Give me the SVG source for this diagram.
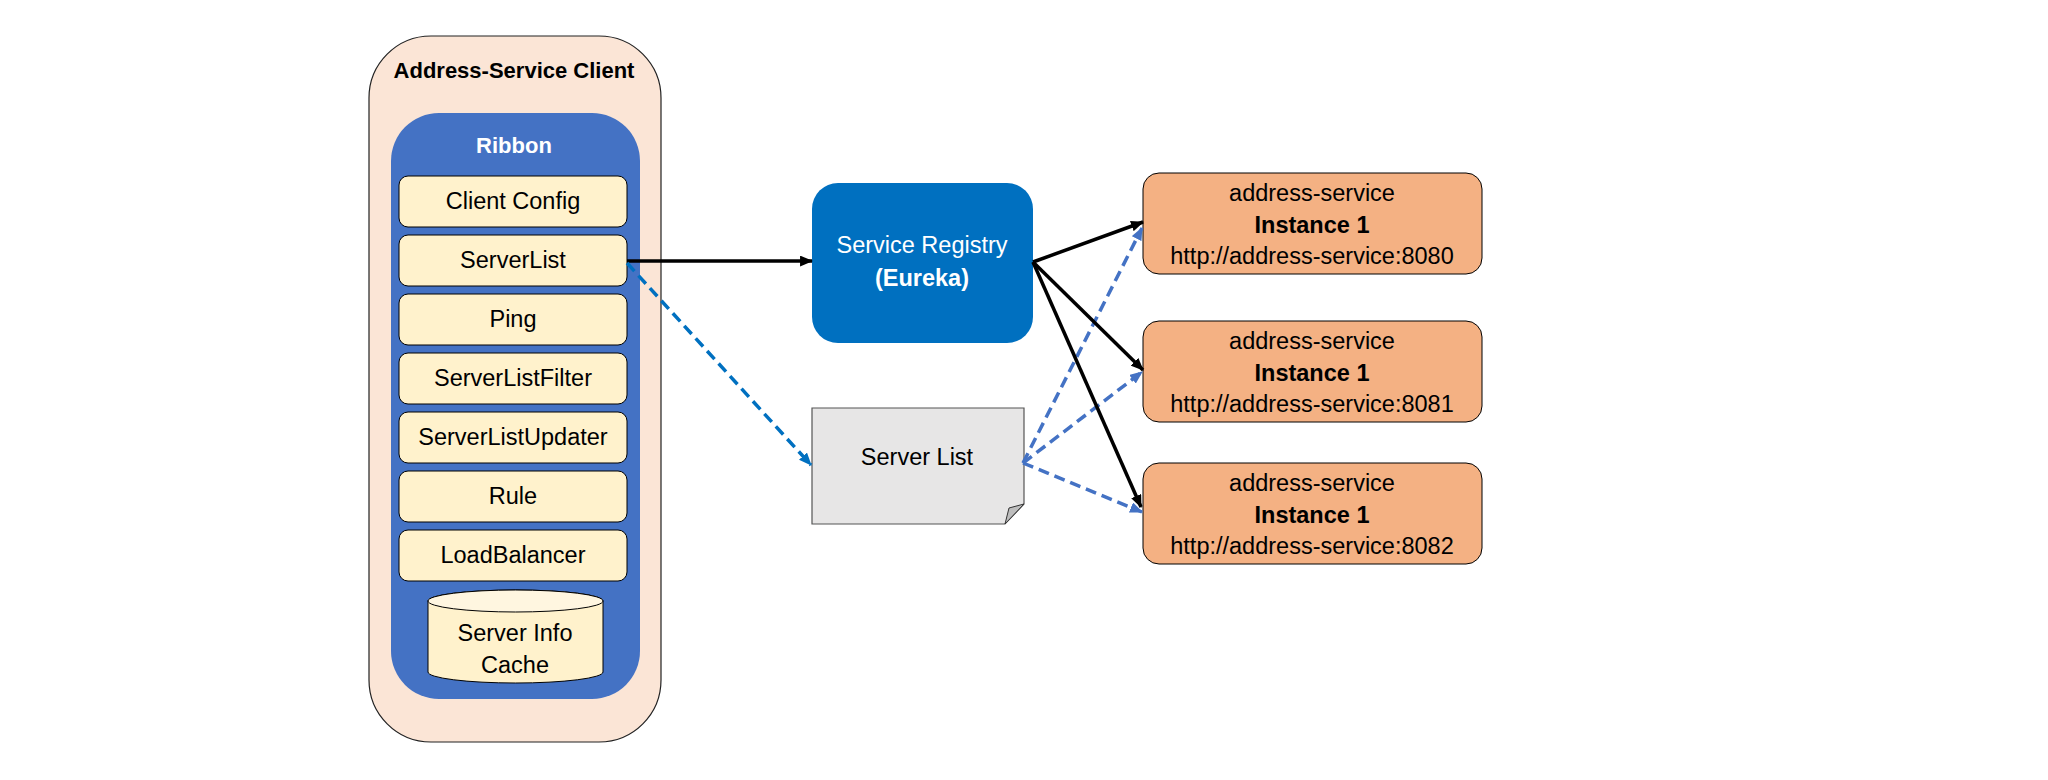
<svg xmlns="http://www.w3.org/2000/svg" width="2048" height="780" viewBox="0 0 2048 780">
<style>
text{font-family:"Liberation Sans",Arial,sans-serif;font-size:23.5px;text-anchor:middle;fill:#000}
.b{font-weight:bold}
.w{fill:#fff}
.t22{font-size:22px}
.item{fill:#FFF2CC;stroke:#000;stroke-width:1}
.inst{fill:#F4B183;stroke:#000;stroke-width:1}
.inst text{font-size:24.5px}
.inst text.url{font-size:25.5px}
.solid{stroke:#000;stroke-width:3.5;fill:none}
.dash1{stroke:#0070C0;stroke-width:3.5;fill:none;stroke-dasharray:11 6}
.dash2{stroke:#4472C4;stroke-width:3.5;fill:none;stroke-dasharray:11 6}
</style>
<defs>
<marker id="ah-black" viewBox="0 0 12 10" refX="11" refY="5" markerWidth="13" markerHeight="11" markerUnits="userSpaceOnUse" orient="auto"><path d="M0,0 L12,5 L0,10 Z" fill="#000"/></marker>
<marker id="ah-blue1" viewBox="0 0 12 10" refX="11" refY="5" markerWidth="13" markerHeight="11" markerUnits="userSpaceOnUse" orient="auto"><path d="M0,0 L12,5 L0,10 Z" fill="#0070C0"/></marker>
<marker id="ah-blue2" viewBox="0 0 12 10" refX="11" refY="5" markerWidth="13" markerHeight="11" markerUnits="userSpaceOnUse" orient="auto"><path d="M0,0 L12,5 L0,10 Z" fill="#4472C4"/></marker>
</defs>
<rect width="2048" height="780" fill="#fff"/>

<g id="client">
<rect x="369" y="36" width="292" height="706" rx="62" fill="#FBE5D6" stroke="#222" stroke-width="1.2"/>
<text class="b t22" x="514" y="78">Address-Service Client</text>
</g>
<g id="ribbon">
<rect x="391" y="113" width="249" height="586" rx="48" fill="#4472C4"/>
<text class="b w t22" x="514" y="153">Ribbon</text>
</g>
<g id="client-config"><rect class="item" x="399" y="176" width="228" height="51" rx="9"/><text x="513" y="209">Client Config</text></g>
<g id="serverlist"><rect class="item" x="399" y="235" width="228" height="51" rx="9"/><text x="513" y="268">ServerList</text></g>
<g id="ping"><rect class="item" x="399" y="294" width="228" height="51" rx="9"/><text x="513" y="327">Ping</text></g>
<g id="serverlistfilter"><rect class="item" x="399" y="353" width="228" height="51" rx="9"/><text x="513" y="386">ServerListFilter</text></g>
<g id="serverlistupdater"><rect class="item" x="399" y="412" width="228" height="51" rx="9"/><text x="513" y="445">ServerListUpdater</text></g>
<g id="rule"><rect class="item" x="399" y="471" width="228" height="51" rx="9"/><text x="513" y="504">Rule</text></g>
<g id="loadbalancer"><rect class="item" x="399" y="530" width="228" height="51" rx="9"/><text x="513" y="563">LoadBalancer</text></g>
<g id="server-info-cache">
<path d="M428,601 L428,672 A87.5,11 0 0 0 603,672 L603,601 A87.5,11 0 0 0 428,601 Z" fill="#FFF2CC" stroke="#000" stroke-width="1"/>
<ellipse cx="515.5" cy="601" rx="87.5" ry="11" fill="#FFF6E0" stroke="#000" stroke-width="1"/>
<text x="515" y="641">Server Info</text>
<text x="515" y="673">Cache</text>
</g>

<g id="service-registry">
<rect x="812" y="183" width="221" height="160" rx="26" fill="#0070C0"/>
<text class="w" x="922" y="253">Service Registry</text>
<text class="w b" x="922" y="286">(Eureka)</text>
</g>

<g id="server-list-doc">
<path d="M812,408 H1024 V504 L1005,524 H812 Z" fill="#E7E6E6" stroke="#555" stroke-width="1.2"/>
<path d="M1024,504 L1005,524 L1009,508 Z" fill="#BDBDBD" stroke="#333" stroke-width="1"/>
<text x="917" y="465">Server List</text>
</g>

<g id="instance-8080">
<rect class="inst" x="1143" y="173" width="339" height="101" rx="16"/>
<text x="1312" y="201">address-service</text>
<text class="b" x="1312" y="233">Instance 1</text>
<text class="url" x="1312" y="264">http://address-service:8080</text>
</g>
<g id="instance-8081">
<rect class="inst" x="1143" y="321" width="339" height="101" rx="16"/>
<text x="1312" y="349">address-service</text>
<text class="b" x="1312" y="381">Instance 1</text>
<text class="url" x="1312" y="412">http://address-service:8081</text>
</g>
<g id="instance-8082">
<rect class="inst" x="1143" y="463" width="339" height="101" rx="16"/>
<text x="1312" y="491">address-service</text>
<text class="b" x="1312" y="523">Instance 1</text>
<text class="url" x="1312" y="554">http://address-service:8082</text>
</g>

<g id="connectors">
<path class="solid" d="M627,261 L812,261" marker-end="url(#ah-black)"/>
<path class="dash1" d="M627,263 L811,465" marker-end="url(#ah-blue1)"/>
<path class="dash2" d="M1023,463 L1142,228" marker-end="url(#ah-blue2)"/>
<path class="dash2" d="M1023,463 L1142,372" marker-end="url(#ah-blue2)"/>
<path class="dash2" d="M1023,463 L1142,512" marker-end="url(#ah-blue2)"/>
<path class="solid" d="M1033,262 L1143,222" marker-end="url(#ah-black)"/>
<path class="solid" d="M1033,262 L1143,370" marker-end="url(#ah-black)"/>
<path class="solid" d="M1033,262 L1141,507" marker-end="url(#ah-black)"/>
</g>
</svg>
